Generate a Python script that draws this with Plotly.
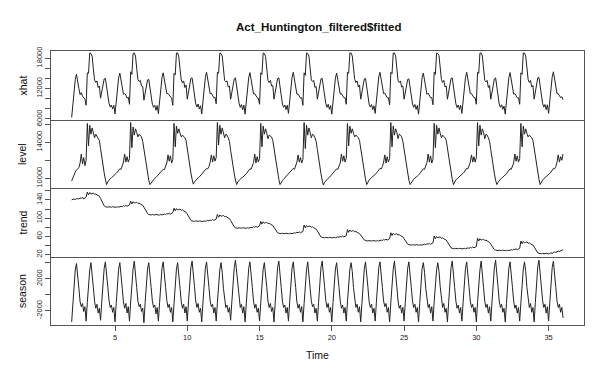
import plotly.graph_objects as go

# ---------------- data ----------------
chart_title = "Act_Huntington_filtered$fitted"
panel_names = ["xhat", "level", "trend", "season"]
x_title = "Time"
time_start = 2          # first observation
frequency = 12          # observations per time unit

xhat = [
    6300, 9000, 11700, 13800, 14800, 13700, 12000, 10800, 11200, 10500, 10200, 9900,      # t=2
    8700, 15100, 15000, 19000, 18900, 18400, 15900, 13700, 13200, 13500, 12200, 12500,    # t=3
    10100, 11300, 12600, 13900, 14000, 12200, 10600, 9100, 8350, 8750, 7950, 8700,        # t=4
    7000, 9450, 11900, 14100, 15050, 13700, 12100, 10900, 11000, 10700, 10100, 10300,     # t=5
    8900, 15300, 14800, 18900, 19000, 18400, 16000, 13800, 13400, 13600, 12500, 12400,    # t=6
    9700, 11100, 12500, 13700, 13800, 12100, 10400, 8900, 8300, 8700, 7700, 8650,         # t=7
    7050, 9500, 11950, 14150, 15100, 13750, 12150, 11000, 11000, 10700, 10300, 10100,     # t=8
    8700, 15000, 14700, 19000, 19000, 18200, 15800, 13700, 13100, 13500, 12200, 12700,    # t=9
    9900, 11300, 12700, 14000, 14100, 12250, 10600, 9000, 8350, 8950, 7950, 8600,         # t=10
    7000, 9550, 12050, 14200, 15200, 13850, 12200, 11000, 11100, 10600, 10200, 10300,     # t=11
    9000, 15200, 15000, 19000, 18900, 18400, 15900, 13600, 13300, 13500, 12300, 12500,    # t=12
    9900, 11200, 12600, 13900, 14100, 12200, 10600, 9100, 8300, 8850, 7800, 8750,         # t=13
    6950, 9400, 12000, 14150, 15150, 13800, 12200, 10950, 11000, 10500, 10200, 10100,     # t=14
    8900, 15100, 14800, 19000, 18900, 18300, 15900, 13600, 13200, 13600, 12500, 12600,    # t=15
    9900, 11200, 12700, 14000, 14100, 12200, 10500, 8950, 8300, 8750, 7850, 8700,         # t=16
    7100, 9650, 12000, 14200, 15200, 13800, 12250, 10900, 10900, 10600, 10100, 10200,     # t=17
    8700, 15100, 14600, 19000, 18900, 18400, 15900, 13700, 13400, 13600, 12200, 12400,    # t=18
    9900, 11100, 12600, 13900, 14000, 12150, 10550, 9050, 8300, 8900, 7900, 8650,         # t=19
    6950, 9500, 12000, 14050, 15050, 13800, 12200, 10900, 11000, 10600, 10200, 10200,     # t=20
    8900, 15200, 15000, 19000, 19000, 18400, 15900, 13800, 13200, 13500, 12300, 12700,    # t=21
    9900, 11100, 12600, 13900, 14000, 12100, 10500, 8900, 8350, 8850, 7850, 8600,         # t=22
    7100, 9550, 12050, 14300, 15200, 13850, 12200, 11000, 11100, 10600, 10200, 10200,     # t=23
    8800, 15200, 14900, 19000, 19000, 18400, 16100, 13600, 13200, 13500, 12300, 12500,    # t=24
    9900, 11100, 12500, 13800, 13900, 12100, 10450, 8950, 8300, 8850, 7900, 8650,         # t=25
    6950, 9400, 12000, 14150, 15050, 13800, 12100, 10850, 11100, 10600, 10200, 10200,     # t=26
    8800, 15200, 14800, 19000, 18900, 18500, 16000, 13800, 13200, 13600, 12300, 12500,    # t=27
    9900, 11200, 12700, 14000, 14100, 12200, 10500, 9000, 8250, 8750, 7850, 8700,         # t=28
    7100, 9550, 12000, 14200, 15200, 13850, 12250, 11000, 11000, 10600, 10200, 10200,     # t=29
    8900, 15200, 15000, 19000, 19000, 18400, 16000, 13600, 13300, 13600, 12200, 12600,    # t=30
    9900, 11200, 12600, 13900, 14100, 12300, 10550, 8950, 8300, 8800, 7900, 8550,         # t=31
    6950, 9400, 12000, 14150, 15150, 13800, 12200, 10900, 11000, 10600, 10200, 10200,     # t=32
    8900, 15100, 14800, 19000, 19000, 18400, 15900, 13800, 13200, 13600, 12300, 12600,    # t=33
    9900, 11200, 12700, 14100, 14200, 12300, 10600, 9100, 8350, 8850, 7850, 8800,         # t=34
    7100, 9550, 12000, 14300, 15300, 13950, 12200, 11000, 11000, 10600, 10200, 10400,     # t=35
    9800,                                                                                  # t=36
]

level = [
    9700, 10100, 10500, 10700, 10900, 11000, 11200, 11700, 12700, 11600, 12300, 11400,    # t=2
    12000, 16100, 13600, 15900, 14900, 15600, 15000, 14500, 14900, 14700, 14500, 14200,   # t=3
    13300, 12200, 11300, 10600, 9900, 9300, 9600, 9800, 9950, 10050, 10150, 10300,        # t=4
    10400, 10550, 10700, 10900, 11050, 11000, 11300, 11800, 12700, 11800, 12400, 11800,   # t=5
    12200, 16200, 13400, 15700, 14800, 15500, 15100, 14600, 14900, 14800, 14600, 14100,   # t=6
    13200, 12100, 11200, 10500, 9800, 9300, 9500, 9700, 9900, 10000, 10100, 10250,        # t=7
    10350, 10500, 10650, 10850, 11000, 10950, 11250, 11700, 12600, 11900, 12500, 11700,   # t=8
    12100, 16100, 13500, 15800, 15000, 15500, 15000, 14600, 14800, 14700, 14500, 14200,   # t=9
    13200, 12200, 11300, 10600, 9900, 9350, 9600, 9800, 9950, 10050, 10150, 10300,        # t=10
    10400, 10550, 10750, 10900, 11100, 11050, 11300, 11800, 12600, 11800, 12500, 11900,   # t=11
    12300, 16200, 13700, 15900, 14900, 15600, 15100, 14500, 14900, 14800, 14500, 14100,   # t=12
    13100, 12100, 11200, 10500, 9800, 9300, 9600, 9800, 9900, 10050, 10100, 10250,        # t=13
    10350, 10500, 10700, 10850, 11050, 11000, 11300, 11750, 12700, 11700, 12400, 11800,   # t=14
    12200, 16100, 13500, 15800, 14900, 15500, 15000, 14400, 14800, 14700, 14600, 14200,   # t=15
    13300, 12200, 11300, 10600, 9900, 9300, 9600, 9750, 9900, 10050, 10150, 10300,        # t=16
    10400, 10550, 10700, 10900, 11100, 11000, 11350, 11800, 12600, 11800, 12300, 11700,   # t=17
    12100, 16200, 13300, 15900, 14800, 15600, 15100, 14500, 14900, 14800, 14500, 14100,   # t=18
    13200, 12100, 11200, 10500, 9800, 9250, 9550, 9750, 9900, 10000, 10100, 10250,        # t=19
    10350, 10500, 10700, 10850, 11050, 11000, 11300, 11700, 12700, 11900, 12500, 11800,   # t=20
    12200, 16100, 13600, 15800, 15000, 15500, 15000, 14600, 14800, 14700, 14500, 14200,   # t=21
    13300, 12200, 11300, 10600, 9900, 9300, 9600, 9800, 9950, 10050, 10150, 10300,        # t=22
    10400, 10550, 10750, 10900, 11100, 11050, 11300, 11800, 12600, 11700, 12400, 11800,   # t=23
    12200, 16200, 13500, 15800, 14800, 15500, 15100, 14400, 14900, 14800, 14600, 14100,   # t=24
    13200, 12100, 11200, 10500, 9800, 9300, 9550, 9750, 9900, 10050, 10100, 10250,        # t=25
    10350, 10500, 10700, 10850, 11050, 11000, 11300, 11750, 12700, 11800, 12500, 11700,   # t=26
    12100, 16100, 13400, 15900, 14900, 15600, 15000, 14500, 14800, 14700, 14500, 14200,   # t=27
    13300, 12200, 11300, 10600, 9900, 9300, 9600, 9800, 9950, 10050, 10150, 10300,        # t=28
    10400, 10550, 10700, 10900, 11100, 11050, 11350, 11800, 12600, 11800, 12400, 11800,   # t=29
    12300, 16200, 13600, 15900, 14800, 15500, 15100, 14400, 14900, 14800, 14500, 14100,   # t=30
    13200, 12100, 11200, 10500, 9800, 9300, 9550, 9750, 9900, 10000, 10100, 10250,        # t=31
    10350, 10500, 10700, 10850, 11050, 11000, 11300, 11700, 12700, 11900, 12500, 11800,   # t=32
    12200, 16100, 13500, 15800, 14900, 15500, 15000, 14600, 14800, 14700, 14500, 14200,   # t=33
    13300, 12200, 11300, 10600, 9900, 9300, 9600, 9800, 9950, 10050, 10150, 10300,        # t=34
    10400, 10550, 10700, 10900, 11100, 11050, 11300, 11800, 12600, 11800, 12400, 12000,   # t=35
    12700,                                                                                 # t=36
]

trend = [
    140, 141, 142, 141, 142, 143, 142, 144, 143, 146, 142, 144,   # t=2
    146, 157, 151, 156, 153, 154, 155, 152, 153, 151, 150, 148,   # t=3
    143, 137, 131, 127, 125, 124, 124, 125, 124, 124, 125, 124,   # t=4
    124, 124, 125, 124, 125, 126, 125, 127, 126, 128, 126, 127,   # t=5
    129, 137, 131, 136, 133, 134, 135, 132, 133, 131, 130, 128,   # t=6
    124, 119, 113, 110, 108, 107, 107, 108, 107, 107, 108, 107,   # t=7
    107, 107, 108, 107, 108, 109, 108, 110, 109, 111, 109, 110,   # t=8
    112, 122, 116, 121, 118, 119, 120, 117, 118, 116, 115, 113,   # t=9
    109, 104, 99, 95, 94, 93, 93, 94, 93, 93, 94, 93,             # t=10
    93, 93, 94, 93, 94, 95, 94, 96, 95, 97, 95, 96,               # t=11
    98, 108, 102, 107, 104, 105, 106, 103, 104, 102, 101, 99,     # t=12
    95, 90, 84, 81, 79, 78, 78, 79, 78, 78, 79, 78,               # t=13
    78, 78, 79, 78, 79, 80, 79, 81, 80, 82, 80, 81,               # t=14
    83, 93, 87, 92, 89, 90, 91, 88, 89, 87, 86, 84,               # t=15
    80, 76, 71, 68, 67, 66, 66, 67, 66, 66, 67, 66,               # t=16
    66, 66, 67, 66, 67, 68, 67, 69, 68, 70, 68, 69,               # t=17
    71, 85, 79, 84, 81, 82, 83, 80, 81, 79, 78, 76,               # t=18
    72, 67, 63, 59, 58, 57, 57, 58, 57, 57, 58, 57,               # t=19
    57, 57, 58, 57, 58, 59, 58, 60, 59, 61, 59, 60,               # t=20
    62, 75, 69, 74, 71, 72, 73, 70, 71, 69, 68, 66,               # t=21
    63, 59, 55, 52, 51, 50, 50, 51, 50, 50, 51, 50,               # t=22
    50, 50, 51, 50, 51, 52, 51, 53, 52, 54, 52, 53,               # t=23
    55, 68, 62, 67, 64, 65, 66, 63, 64, 62, 61, 59,               # t=24
    55, 51, 46, 43, 42, 41, 41, 42, 41, 41, 42, 41,               # t=25
    41, 41, 42, 41, 42, 43, 42, 44, 43, 45, 43, 44,               # t=26
    46, 61, 55, 60, 57, 58, 59, 56, 57, 55, 54, 52,               # t=27
    48, 43, 39, 35, 34, 33, 33, 34, 33, 33, 34, 33,               # t=28
    33, 33, 34, 33, 34, 35, 34, 36, 35, 37, 35, 36,               # t=29
    38, 56, 50, 55, 52, 53, 54, 51, 52, 50, 49, 47,               # t=30
    43, 39, 34, 31, 30, 29, 29, 30, 29, 29, 30, 29,               # t=31
    29, 29, 30, 29, 30, 31, 30, 32, 31, 33, 31, 32,               # t=32
    34, 50, 44, 49, 46, 47, 48, 45, 46, 44, 43, 41,               # t=33
    37, 32, 28, 24, 23, 22, 22, 23, 22, 22, 23, 22,               # t=34
    22, 23, 24, 23, 25, 26, 25, 27, 28, 27, 29, 30,               # t=35
    31,                                                           # t=36
]

season = [
    -3400, -1100, 1200, 3100, 3900, 2700, 800, -900, -1500, -1100, -2100, -1500,   # t=2
    -3300, -1000, 1400, 3100, 4000, 2800, 900, -800, -1700, -1200, -2300, -1700,   # t=3
    -3200, -900, 1300, 3300, 4100, 2900, 1000, -700, -1600, -1300, -2200, -1600,   # t=4
    -3400, -1100, 1200, 3200, 4000, 2700, 800, -900, -1700, -1100, -2300, -1500,   # t=5
    -3300, -900, 1400, 3200, 4200, 2900, 900, -800, -1500, -1200, -2100, -1700,    # t=6
    -3500, -1000, 1300, 3200, 4000, 2800, 900, -800, -1600, -1300, -2400, -1600,   # t=7
    -3300, -1000, 1300, 3300, 4100, 2800, 900, -700, -1600, -1200, -2200, -1600,   # t=8
    -3400, -1100, 1200, 3200, 4000, 2700, 800, -900, -1700, -1200, -2300, -1500,   # t=9
    -3300, -900, 1400, 3400, 4200, 2900, 1000, -800, -1600, -1100, -2200, -1700,   # t=10
    -3400, -1000, 1300, 3300, 4100, 2800, 900, -800, -1500, -1200, -2300, -1600,   # t=11
    -3300, -1000, 1300, 3100, 4000, 2800, 800, -900, -1600, -1300, -2200, -1600,   # t=12
    -3200, -900, 1400, 3400, 4300, 2900, 1000, -700, -1600, -1200, -2300, -1500,   # t=13
    -3400, -1100, 1300, 3300, 4100, 2800, 900, -800, -1700, -1200, -2200, -1700,   # t=14
    -3300, -1000, 1300, 3200, 4000, 2800, 900, -800, -1600, -1100, -2100, -1600,   # t=15
    -3400, -1000, 1400, 3400, 4200, 2900, 900, -800, -1600, -1300, -2300, -1600,   # t=16
    -3300, -900, 1300, 3300, 4100, 2800, 900, -900, -1700, -1200, -2200, -1500,    # t=17
    -3400, -1100, 1300, 3100, 4100, 2800, 800, -800, -1500, -1200, -2300, -1700,   # t=18
    -3300, -1000, 1400, 3400, 4200, 2900, 1000, -700, -1600, -1100, -2200, -1600,  # t=19
    -3400, -1000, 1300, 3200, 4000, 2800, 900, -800, -1700, -1300, -2300, -1600,   # t=20
    -3300, -900, 1400, 3200, 4000, 2900, 900, -800, -1600, -1200, -2200, -1500,    # t=21
    -3400, -1100, 1300, 3300, 4100, 2800, 900, -900, -1600, -1200, -2300, -1700,   # t=22
    -3300, -1000, 1300, 3400, 4100, 2800, 900, -800, -1500, -1100, -2200, -1600,   # t=23
    -3400, -1000, 1400, 3200, 4200, 2900, 1000, -800, -1700, -1300, -2300, -1600,  # t=24
    -3300, -1000, 1300, 3300, 4100, 2800, 900, -800, -1600, -1200, -2200, -1600,   # t=25
    -3400, -1100, 1300, 3300, 4000, 2800, 800, -900, -1600, -1200, -2300, -1500,   # t=26
    -3300, -900, 1400, 3100, 4000, 2900, 1000, -700, -1600, -1100, -2200, -1700,   # t=27
    -3400, -1000, 1400, 3400, 4200, 2900, 900, -800, -1700, -1300, -2300, -1600,  # t=28
    -3300, -1000, 1300, 3300, 4100, 2800, 900, -800, -1600, -1200, -2200, -1600,   # t=29
    -3400, -1000, 1400, 3100, 4200, 2900, 900, -800, -1600, -1200, -2300, -1500,   # t=30
    -3300, -900, 1400, 3400, 4300, 3000, 1000, -800, -1600, -1200, -2200, -1700,   # t=31
    -3400, -1100, 1300, 3300, 4100, 2800, 900, -800, -1700, -1300, -2300, -1600,   # t=32
    -3300, -1000, 1300, 3200, 4100, 2900, 900, -800, -1600, -1100, -2200, -1600,   # t=33
    -3400, -1000, 1400, 3500, 4300, 3000, 1000, -700, -1600, -1200, -2300, -1500,  # t=34
    -3300, -1000, 1300, 3400, 4200, 2900, 900, -800, -1600, -1200, -2200, -1600,   # t=35
    -2900,                                                                          # t=36
]

# axis ticks
time_ticks = [5, 10, 15, 20, 25, 30, 35]
xhat_ticks = [6000, 8000, 10000, 12000, 14000, 16000, 18000]
xhat_labels = ["6000", "", "", "12000", "", "", "18000"]
level_ticks = [10000, 12000, 14000, 16000]
level_labels = ["10000", "", "14000", ""]
trend_ticks = [20, 40, 60, 80, 100, 120, 140, 160]
trend_labels = ["20", "", "60", "", "100", "", "140", ""]
season_ticks = [-2000, 0, 2000, 4000]
season_labels = ["-2000", "", "2000", ""]

# ---------------- layout geometry ----------------
W, H = 594, 370
ML, MR, MT, MB = 43, 18, 43, 53
PH = H - MT - MB            # 274 px plot height
PW = W - ML - MR            # 533 px plot width
edges_px = [43, 112, 180, 249, 317]   # panel borders (top to bottom)

def frac(py):
    return (H - MB - py) / PH

domains = [[frac(edges_px[i + 1]), frac(edges_px[i])] for i in range(4)]
x_range = [0.57, 37.45]
y_ranges = [[5800, 19400], [8920, 16480], [15, 166], [-3790, 4710]]
tick_sets = [(xhat_ticks, xhat_labels), (level_ticks, level_labels),
             (trend_ticks, trend_labels), (season_ticks, season_labels)]

FONT = "Liberation Sans, Arial, sans-serif"
LINE_COL = "#222222"
BOX_COL = "#555555"

n = len(xhat)
time = [time_start + i / frequency for i in range(n)]
series = [xhat, level, trend, season]

fig = go.Figure()
for k in range(4):
    suffix = "" if k == 0 else str(k + 1)
    fig.add_trace(go.Scatter(
        x=time, y=series[k], mode="lines",
        line=dict(color=LINE_COL, width=1),
        xaxis="x" + suffix, yaxis="y" + suffix,
        showlegend=False, hoverinfo="skip"))

layout = dict(
    width=W, height=H,
    margin=dict(l=ML, r=MR, t=MT, b=MB, pad=0),
    paper_bgcolor="white", plot_bgcolor="white",
    font=dict(family=FONT, color="black"),
    showlegend=False,
)

for k in range(4):
    suffix = "" if k == 0 else str(k + 1)
    bottom = (k == 3)
    xa = dict(
        domain=[0, 1], range=x_range, anchor="y" + suffix,
        showline=True, mirror=(k == 0), linecolor=BOX_COL, linewidth=1,
        showgrid=False, zeroline=False,
    )
    if bottom:
        xa.update(ticks="outside", ticklen=5, tickwidth=1, tickcolor=BOX_COL,
                  tickvals=time_ticks, ticktext=[str(v) for v in time_ticks],
                  showticklabels=True, tickfont=dict(size=7.5, family=FONT, color="#222"))
    else:
        xa.update(ticks="", showticklabels=False)
    if k > 0:
        xa["matches"] = "x"
    layout["xaxis" + suffix] = xa

    tv, tt = tick_sets[k]
    layout["yaxis" + suffix] = dict(
        domain=domains[k], range=y_ranges[k], anchor="x" + suffix,
        showline=True, mirror=True, linecolor=BOX_COL, linewidth=1,
        showgrid=False, zeroline=False,
        ticks="outside", ticklen=5, tickwidth=1, tickcolor=BOX_COL,
        tickvals=tv, ticktext=tt, tickangle=-90,
        tickfont=dict(size=7.5, family=FONT, color="#222"),
    )

fig.update_layout(**layout)

annotations = []
# panel (y-axis) titles
for k, name in enumerate(panel_names):
    yc = (domains[k][0] + domains[k][1]) / 2
    annotations.append(dict(
        text=name, xref="paper", yref="paper",
        x=(14 - ML) / PW, y=yc, xanchor="center", yanchor="middle",
        textangle=-90, showarrow=False,
        font=dict(size=10.5, family=FONT, color="#111")))
# x-axis title
annotations.append(dict(
    text=x_title, xref="paper", yref="paper",
    x=(309 - ML) / PW, y=-(347 - (H - MB)) / PH,
    xanchor="center", yanchor="middle", showarrow=False,
    font=dict(size=10.5, family=FONT, color="#111")))
# main title
annotations.append(dict(
    text="<b>" + chart_title + "</b>", xref="paper", yref="paper",
    x=(310 - ML) / PW, y=1 + (MT - 19) / PH,
    xanchor="center", yanchor="middle", showarrow=False,
    font=dict(size=11.5, family=FONT, color="#111")))
fig.update_layout(annotations=annotations)

fig.write_html("out.html")
